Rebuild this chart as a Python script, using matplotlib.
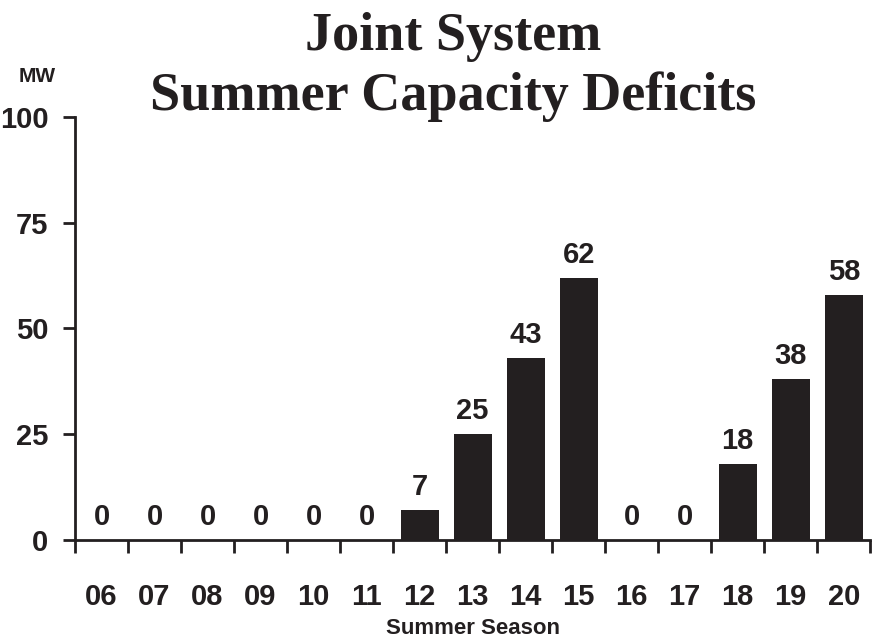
import matplotlib.pyplot as plt
import numpy as np

seasons = ['06', '07', '08', '09', '10', '11', '12', '13', '14', '15',
           '16', '17', '18', '19', '20']
deficits = [0, 0, 0, 0, 0, 0, 7, 25, 43, 62, 0, 0, 18, 38, 58]
yticks = [0, 25, 50, 75, 100]

plt.rcParams['font.family'] = ['Liberation Sans', 'DejaVu Sans']
plt.rcParams['font.weight'] = 'bold'

bar_color = '#231f20'
label_size = 21

fig = plt.figure(figsize=(8.72, 6.41), dpi=100)
ax = fig.add_axes([0.086, 0.1576, 0.912, 0.66])

x = np.arange(len(seasons))
ax.bar(x, deficits, width=0.72, color=bar_color, zorder=2)

for xi, v in zip(x, deficits):
    ax.text(xi, v + 2.1, str(v), ha='center', va='bottom',
            fontsize=label_size, fontweight='bold', color=bar_color)

ax.set_xlim(-0.5, len(seasons) - 0.5)
ax.set_ylim(0, 100)

# tick marks sit between bars, labels under bar centres
ax.set_xticks(np.arange(-0.5, len(seasons), 1.0))
ax.set_xticklabels([])
ax.set_xticks(x, minor=True)
ax.set_xticklabels(seasons, minor=True, fontsize=label_size, fontweight='bold')
ax.tick_params(axis='x', which='major', direction='out', length=9, width=2,
               color=bar_color)
ax.tick_params(axis='x', which='minor', length=0, pad=31, labelcolor=bar_color)

ax.set_yticks(yticks)
ax.set_yticklabels([str(t) for t in yticks], fontsize=label_size,
                   fontweight='bold', color=bar_color)
ax.tick_params(axis='y', direction='out', length=9, width=2, color=bar_color,
               pad=10)

for side in ['top', 'right']:
    ax.spines[side].set_visible(False)
for side in ['left', 'bottom']:
    ax.spines[side].set_linewidth(2)
    ax.spines[side].set_color(bar_color)

ax.set_xlabel('Summer Season', fontsize=16, fontweight='bold',
              color=bar_color, labelpad=5)

title_font = dict(ha='center', va='baseline', fontsize=39, fontweight='bold',
                  family='Liberation Serif', color=bar_color)
fig.text(0.5195, 0.922, 'Joint System', **title_font)
fig.text(0.5195, 0.8284, 'Summer Capacity Deficits', **title_font)
fig.text(0.0425, 0.88, 'MW', ha='center', va='center', fontsize=15,
         fontweight='bold', color=bar_color)

fig.savefig('out.png', dpi=100)
